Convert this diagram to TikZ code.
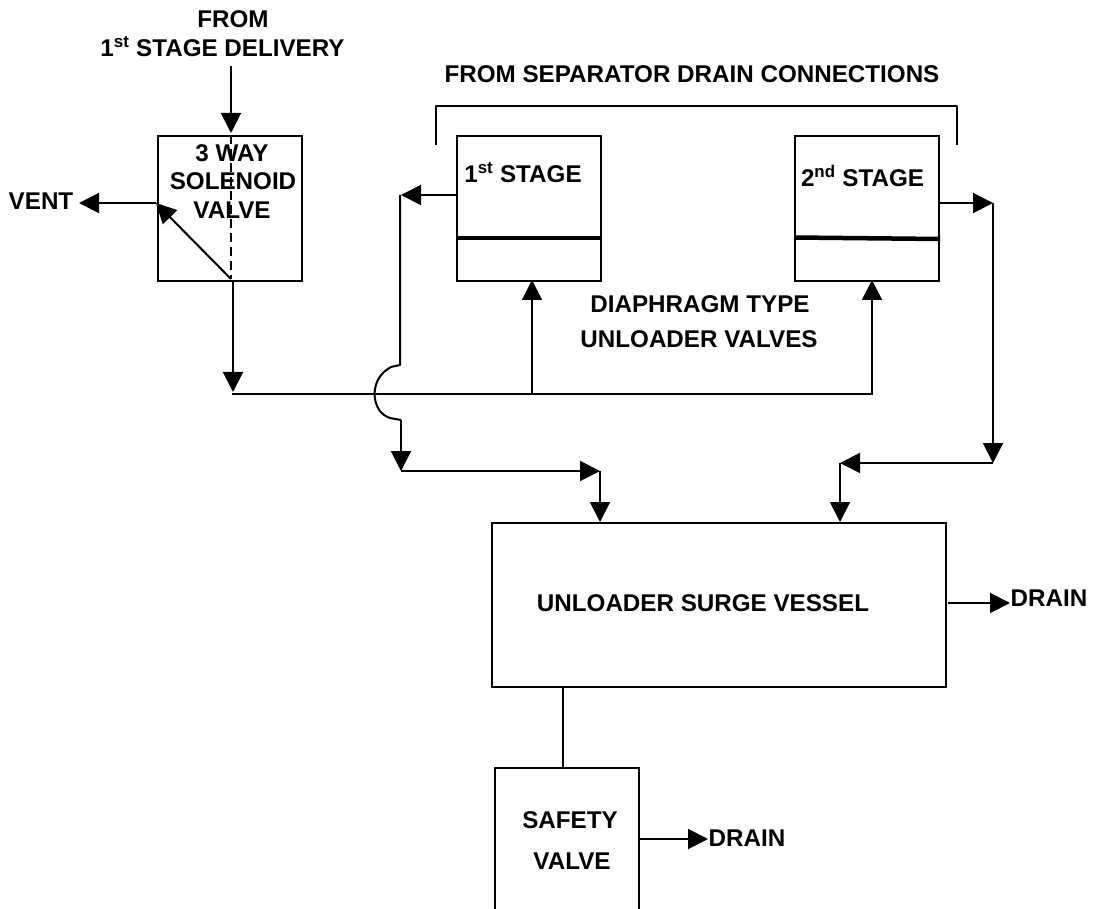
\documentclass[tikz,border=0pt]{standalone}
\usepackage{fontspec}
\setmainfont{Liberation Sans}
\usetikzlibrary{arrows.meta}
\tikzset{
  boxn/.style={draw=black,line width=2.2pt,rectangle,inner sep=0pt,anchor=north west},
  lab/.style={font=\fontsize{24.2}{28}\selectfont\bfseries,inner sep=0pt,anchor=base,align=center},
  pipe/.style={draw=black,line width=2pt,line join=round},
  arr/.style={pipe,-{Triangle[length=20pt,width=20pt]}},
  thin pipe/.style={draw=black,line width=1.6pt},
  barline/.style={draw=black,line width=4.5pt}
}
\begin{document}
\begin{tikzpicture}[x=1pt,y=-1pt]
\useasboundingbox (0,0) rectangle (1093,909);
% boxes
\node[boxn,minimum width=144pt,minimum height=145pt] (sol) at (157,135) {};
\node[boxn,minimum width=144pt,minimum height=145pt] (one) at (456,135) {};
\node[boxn,minimum width=144pt,minimum height=145pt] (two) at (794,135) {};
\node[boxn,minimum width=454pt,minimum height=164pt] (surge) at (491,522) {};
\coordinate (sn) at (495,768);
\coordinate (se) at (639,768);
% labels
\node[lab] (t1) at (233,28) {FROM};
\node[lab] (t2) at (222.5,56.5) {1\textsuperscript{st} STAGE DELIVERY};
\node[lab] (t3) at (692,83) {FROM SEPARATOR DRAIN CONNECTIONS};
\node[lab] (t4) at (232,162) {3 WAY};
\node[lab] (t5) at (233,190) {SOLENOID};
\node[lab] (t6) at (232,219) {VALVE};
\node[lab] (t7) at (41,210) {VENT};
\node[lab] (t8) at (523,183) {1\textsuperscript{st} STAGE};
\node[lab] (t9) at (862.5,187) {2\textsuperscript{nd} STAGE};
\node[lab] (t10) at (700,313) {DIAPHRAGM TYPE};
\node[lab] (t11) at (699,347.5) {UNLOADER VALVES};
\node[lab] (t12) at (703,611) {UNLOADER SURGE VESSEL};
\node[lab] (t13) at (1049,606) {DRAIN};
\node[lab] (t14) at (570,828) {SAFETY};
\node[lab] (t15) at (572,869) {VALVE};
\node[lab] (t16) at (747,846) {DRAIN};
% coordinates
\coordinate (inl) at (231,66);
\coordinate (solin) at (231,133);
\coordinate (solmid) at (231,279);
\coordinate (solw) at (156,203);
\coordinate (vent) at (79,203);
\coordinate (solout) at (233,282);
\coordinate (hdr) at (233,392);
\coordinate (mainl) at (232,394);
\coordinate (mainr) at (873,394);
\coordinate (t1up) at (532,394);
\coordinate (t1top) at (532,280);
\coordinate (t2up) at (872,394);
\coordinate (t2top) at (872,280);
\coordinate (l0) at (456,195);
\coordinate (l1) at (401,195);
\coordinate (l2) at (400,365);
\coordinate (l3) at (401,420);
\coordinate (l4) at (401,471);
\coordinate (l5) at (600,471);
\coordinate (l6) at (600,522);
\coordinate (r0) at (939,203);
\coordinate (r1) at (993,203);
\coordinate (r2) at (993,463);
\coordinate (r3) at (840,463);
\coordinate (r4) at (840,522);
\coordinate (dg) at (231,279);
\coordinate (d1a) at (948,603);
\coordinate (d1b) at (1010,603);
\coordinate (d2a) at (640,839);
\coordinate (d2b) at (708,839);
\coordinate (sv) at (563,768);
\coordinate (sv0) at (563,686);
% connectors
\draw[arr] (inl) -- (solin);
\draw[pipe,dash pattern=on 9pt off 5pt,line width=1.5pt] (231,135) -- (solmid);
\draw[arr] (dg) -- (solw);
\draw[arr] (solw) -- (vent);
\draw[arr] (solout) -- (hdr);
\draw[thin pipe] (mainl) -- (mainr);
\draw[arr] (t1up) -- (t1top);
\draw[arr] (t2up) -- (t2top);
\draw[arr] (l0) -- (l1);
\draw[pipe] (400,195) -- (l2) -- (391,367) .. controls (382,372) and (375,380) .. (374.5,394) .. controls (375,407) and (381,415) .. (390,418) -- (l3);
\draw[arr] (l3) -- (l4);
\draw[arr] (l4) -- (l5);
\draw[arr] (l5) -- (l6);
\draw[arr] (r0) -- (r1);
\draw[arr] (r1) -- (r2);
\draw[arr] (r2) -- (r3);
\draw[arr] (r3) -- (r4);
\draw[arr] (d1a) -- (d1b);
\draw[pipe] (sv0) -- (sv);
\draw[arr] (d2a) -- (d2b);
% safety box open below
\draw[draw=black,line width=2.2pt] (495,915) -- (sn) -- (se) -- (639,915);
% diaphragms
\draw[barline] (one.west |- 0,238) -- (one.east |- 0,238);
\draw[barline] (two.west |- 0,237.5) -- (two.east |- 0,239);
% bracket
\draw[pipe] (436,145) -- (436,106) -- (957,106) -- (957,145);
\end{tikzpicture}
\end{document}
